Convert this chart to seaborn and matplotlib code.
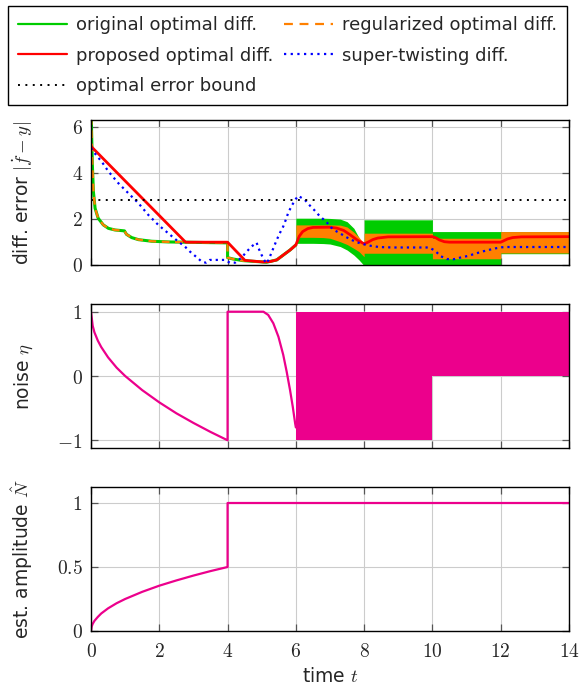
import matplotlib
matplotlib.use("Agg")
import matplotlib.pyplot as plt
import seaborn as sns
from matplotlib.lines import Line2D

# ---- data ----
# top panel: differentiation error |f' - y|
t_opt = [0, 0.02, 0.04, 0.07, 0.12, 0.21, 0.36, 0.51, 0.70, 0.98, 1.04, 1.19, 1.39, 1.78,
         2.27, 2.75, 3.5, 4.0, 4.0, 4.16, 4.45, 4.95, 5.14, 5.44, 5.63, 5.83, 6.0]
err_opt = [7.0, 5.6, 4.35, 3.19, 2.46, 2.03, 1.74, 1.59, 1.52, 1.48, 1.33, 1.19, 1.10, 1.03,
           1.0, 0.99, 0.97, 0.96, 0.32, 0.26, 0.19, 0.14, 0.12, 0.22, 0.43, 0.65, 0.87]

# chattering bands after t = 6 (upper / lower envelope)
t_band = [6.0, 6.5, 6.8, 7.0, 7.3, 7.5, 7.7, 7.85, 7.97, 8.0, 8.0, 10.0, 10.0, 12.0, 12.0, 14.0]
orig_hi = [2.03, 2.03, 2.03, 2.02, 1.99, 1.88, 1.59, 1.18, 0.72, 0.55, 1.96, 1.96, 1.45, 1.45, 1.45, 1.45]
orig_lo = [0.94, 0.94, 0.93, 0.91, 0.80, 0.65, 0.43, 0.22, 0.02, 0.0, 0.02, 0.02, 0.0, 0.0, 0.49, 0.49]
reg_hi = [1.74, 1.74, 1.74, 1.74, 1.73, 1.65, 1.42, 1.20, 0.98, 0.95, 1.38, 1.38, 1.16, 1.16, 1.45, 1.45]
reg_lo = [1.20, 1.20, 1.19, 1.16, 1.01, 0.89, 0.72, 0.58, 0.40, 0.36, 0.51, 0.51, 0.27, 0.27, 0.52, 0.52]

t_prop = [0, 2.77, 4.0, 4.51, 5.05, 5.25, 5.44, 5.63, 5.83, 6.0, 6.1, 6.2, 6.35, 6.5, 7.0, 7.2,
          7.4, 7.6, 7.8, 8.0, 8.1, 8.25, 8.4, 8.7, 10.0, 10.1, 10.2, 10.35, 10.5, 12.0, 12.1,
          12.2, 12.35, 12.6, 14.0]
err_prop = [5.15, 0.99, 0.99, 0.2, 0.13, 0.15, 0.22, 0.43, 0.65, 0.87, 1.25, 1.45, 1.58, 1.63,
            1.64, 1.6, 1.5, 1.3, 1.08, 0.92, 0.98, 1.1, 1.17, 1.22, 1.23, 1.18, 1.09, 1.01,
            0.99, 0.99, 1.06, 1.13, 1.19, 1.22, 1.23]

t_st = [0, 0.16, 0.31, 0.51, 0.8, 1.09, 1.39, 1.68, 1.97, 2.26, 2.56, 2.75, 2.9, 3.1, 3.25,
        3.37, 3.48, 3.68, 3.9, 4.07, 4.22, 4.41, 4.56, 4.7, 4.85, 4.93, 5.03, 5.13, 5.2, 5.3,
        5.44, 5.54, 5.63, 5.71, 5.78, 5.88, 5.98, 6.07, 6.26, 6.41, 6.56, 6.71, 6.89, 7.02,
        7.2, 7.4, 7.57, 7.78, 7.98, 8.2, 8.43, 8.83, 9.9, 10.08, 10.23, 10.42, 10.62, 10.81,
        11.03, 11.23, 11.45, 11.64, 11.84, 12.04, 12.23, 14.0]
err_st = [5.07, 4.75, 4.49, 4.06, 3.55, 3.12, 2.68, 2.17, 1.74, 1.38, 1.01, 0.8, 0.58, 0.33,
          0.14, 0.10, 0.22, 0.22, 0.22, 0.1, 0.1, 0.32, 0.58, 0.8, 0.97, 0.65, 0.33, 0.07, 0.22,
          0.58, 1.09, 1.41, 1.67, 1.98, 2.28, 2.57, 2.83, 3.0, 2.83, 2.58, 2.35, 2.10, 1.88,
          1.64, 1.45, 1.28, 1.13, 0.99, 0.9, 0.83, 0.78, 0.76, 0.76, 0.62, 0.39, 0.26, 0.25,
          0.32, 0.39, 0.48, 0.58, 0.65, 0.72, 0.77, 0.78, 0.78]

err_bound = 2.83

# middle panel: noise eta
t_eta = [0, 0.05, 0.1, 0.2, 0.3, 0.5, 0.75, 1, 1.5, 2, 2.5, 3, 3.5, 4, 4, 5.05, 5.19, 5.34,
         5.49, 5.63, 5.73, 5.83, 5.91, 5.98, 6.0]
eta = [1, 0.78, 0.68, 0.55, 0.45, 0.29, 0.13, 0.0, -0.22, -0.41, -0.58, -0.73, -0.87, -1.0,
       1.0, 1.0, 0.95, 0.82, 0.61, 0.33, 0.07, -0.22, -0.48, -0.74, -0.8]
t_eta_band = [6, 10, 10, 14]
eta_hi = [1, 1, 1, 1]
eta_lo = [-1, -1, 0, 0]

# bottom panel: estimated amplitude N hat
t_amp = [0, 0.02, 0.05, 0.1, 0.2, 0.3, 0.5, 0.75, 1, 1.5, 2, 2.5, 3, 3.5, 4, 4, 14]
amp = [0, 0.035, 0.056, 0.079, 0.11, 0.137, 0.177, 0.217, 0.25, 0.306, 0.354, 0.395, 0.433,
       0.468, 0.5, 1, 1]

x_ticks = [0, 2, 4, 6, 8, 10, 12, 14]
x_labels = ["$%d$" % v for v in x_ticks]
y_ticks_err = [0, 2, 4, 6]
y_ticks_eta = [-1, 0, 1]
y_ticks_amp = [0, 0.5, 1]

# ---- style ----
sns.set_theme(style="white")
plt.rcParams["font.family"] = ["DejaVu Sans"]
plt.rcParams["mathtext.fontset"] = "cm"

GREEN = "#00cc00"
ORANGE = "#ff8000"
RED = "#ff0000"
BLUE = "#0000ff"
MAGENTA = "#ec008c"
LABEL_FS = 13.5

fig = plt.figure(figsize=(5.79, 6.94), dpi=100)
W, H = 579, 694
left, width = 91 / W, 478 / W
ax1 = fig.add_axes([left, 1 - 265 / H, width, 145 / H])
ax2 = fig.add_axes([left, 1 - 448 / H, width, 144 / H])
ax3 = fig.add_axes([left, 1 - 631 / H, width, 144 / H])


def style_axis(ax):
    ax.set_xlim(0, 14)
    ax.set_xticks(x_ticks)
    ax.grid(True, color="#cccccc", lw=0.8)
    ax.set_axisbelow(True)
    for s in ax.spines.values():
        s.set_color("black")
        s.set_linewidth(1.0)
    ax.tick_params(direction="in", length=5, width=0.9, color="#555555",
                   left=True, right=True, top=True, bottom=True,
                   labelsize=14, pad=6)
    ax.tick_params(axis="x", pad=8)


# top panel
ax1.fill_between(t_band, orig_lo, orig_hi, color=GREEN, lw=0)
ax1.fill_between(t_band, reg_lo, reg_hi, color=ORANGE, lw=0)
sns.lineplot(x=t_opt, y=err_opt, ax=ax1, color=GREEN, lw=2.2, estimator=None, sort=False)
sns.lineplot(x=t_opt, y=err_opt, ax=ax1, color=ORANGE, lw=1.6, estimator=None, sort=False)
ax1.lines[-1].set_dashes((3.5, 2.5))
sns.lineplot(x=t_prop, y=err_prop, ax=ax1, color=RED, lw=2.0, estimator=None, sort=False)
sns.lineplot(x=t_st, y=err_st, ax=ax1, color=BLUE, lw=1.6, estimator=None, sort=False)
ax1.lines[-1].set_dashes((1, 1.8))
ax1.axhline(err_bound, color="black", lw=1.4, dashes=(1, 2.8))
style_axis(ax1)
ax1.set_ylim(0, 6.29)
ax1.set_yticks(y_ticks_err, ["$%g$" % v for v in y_ticks_err])
ax1.set_xticklabels([])
ax1.set_ylabel(r"diff. error $|\dot{f}-y|$", fontsize=LABEL_FS)

# middle panel
ax2.fill_between(t_eta_band, eta_lo, eta_hi, color=MAGENTA, lw=0)
sns.lineplot(x=t_eta, y=eta, ax=ax2, color=MAGENTA, lw=1.6, estimator=None, sort=False)
style_axis(ax2)
ax2.set_ylim(-1.12, 1.12)
ax2.set_yticks(y_ticks_eta, ["$%g$" % v for v in y_ticks_eta])
ax2.set_xticklabels([])
ax2.set_ylabel(r"noise $\eta$", fontsize=LABEL_FS)

# bottom panel
sns.lineplot(x=t_amp, y=amp, ax=ax3, color=MAGENTA, lw=1.6, estimator=None, sort=False)
style_axis(ax3)
ax3.set_ylim(0, 1.125)
ax3.set_yticks(y_ticks_amp, ["$%g$" % v for v in y_ticks_amp])
ax3.set_xticks(x_ticks, x_labels)
ax3.set_ylabel(r"est. amplitude $\hat{N}$", fontsize=LABEL_FS)
ax3.set_xlabel(r"time $t$", fontsize=LABEL_FS)

for ax in (ax1, ax2, ax3):
    ax.yaxis.set_label_coords(-0.118, 0.5)

# legend
handles = [
    Line2D([], [], color=GREEN, lw=1.6),
    Line2D([], [], color=RED, lw=1.6),
    Line2D([], [], color="black", lw=1.4, dashes=(1, 2.8)),
    Line2D([], [], color=ORANGE, lw=1.6, dashes=(4, 3)),
    Line2D([], [], color=BLUE, lw=1.6, dashes=(1, 2)),
]
labels = ["original optimal diff.", "proposed optimal diff.", "optimal error bound",
          "regularized optimal diff.", "super-twisting diff."]
leg = fig.legend(handles, labels, ncol=2, loc="upper left",
                 bbox_to_anchor=(8 / W, 1 - 6 / H), fontsize=13,
                 frameon=True, fancybox=False, edgecolor="black", framealpha=1,
                 handlelength=2.7, handletextpad=0.5, columnspacing=0.6,
                 labelspacing=0.7, borderpad=0.55, borderaxespad=0)
leg.get_frame().set_linewidth(1.0)

fig.savefig("out.png", dpi=100)
